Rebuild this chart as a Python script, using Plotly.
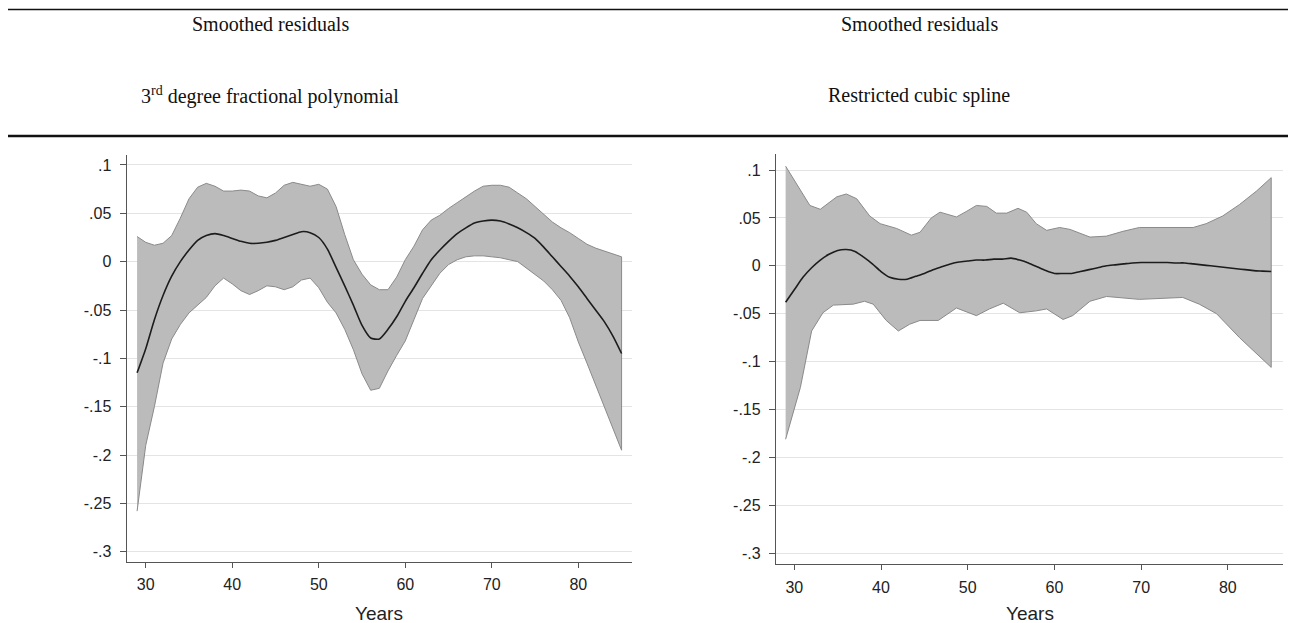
import plotly.graph_objects as go

# ---------------- data ----------------
# Left panel: 3rd degree fractional polynomial
fp_age = [29, 30, 31, 32, 33, 34, 35, 36, 37, 38, 39, 40, 41, 42, 43, 44, 45, 46, 47, 48, 49, 50,
          51, 52, 53, 54, 55, 56, 57, 58, 59, 60, 61, 62, 63, 64, 65, 66, 67, 68, 69, 70, 71, 72,
          73, 74, 75, 76, 77, 78, 79, 80, 81, 82, 83, 84, 85]
fp_fit = [-0.115, -0.090, -0.060, -0.035, -0.015, 0.000, 0.012, 0.022, 0.027, 0.029, 0.027, 0.024,
          0.021, 0.019, 0.019, 0.020, 0.022, 0.025, 0.028, 0.031, 0.030, 0.025, 0.013, -0.006,
          -0.025, -0.045, -0.066, -0.079, -0.080, -0.070, -0.057, -0.041, -0.027, -0.012, 0.002,
          0.012, 0.021, 0.029, 0.035, 0.040, 0.042, 0.043, 0.042, 0.039, 0.035, 0.030, 0.024,
          0.015, 0.005, -0.005, -0.015, -0.026, -0.038, -0.050, -0.062, -0.077, -0.095]
fp_upper = [0.026, 0.020, 0.017, 0.019, 0.027, 0.045, 0.065, 0.077, 0.081, 0.078, 0.073, 0.073,
            0.074, 0.073, 0.068, 0.066, 0.071, 0.079, 0.082, 0.080, 0.078, 0.080, 0.075, 0.057,
            0.028, 0.002, -0.013, -0.024, -0.029, -0.029, -0.016, 0.002, 0.016, 0.033, 0.043,
            0.048, 0.055, 0.061, 0.067, 0.073, 0.078, 0.079, 0.079, 0.077, 0.071, 0.065, 0.057,
            0.049, 0.041, 0.035, 0.030, 0.024, 0.018, 0.014, 0.011, 0.008, 0.005]
fp_lower = [-0.258, -0.190, -0.150, -0.105, -0.080, -0.065, -0.053, -0.045, -0.037, -0.025,
            -0.017, -0.023, -0.030, -0.034, -0.030, -0.025, -0.026, -0.029, -0.026, -0.019,
            -0.017, -0.027, -0.042, -0.053, -0.070, -0.091, -0.116, -0.133, -0.131, -0.113,
            -0.097, -0.082, -0.060, -0.038, -0.025, -0.012, -0.003, 0.002, 0.005, 0.006, 0.006,
            0.005, 0.004, 0.002, 0.000, -0.006, -0.013, -0.020, -0.029, -0.040, -0.058, -0.083,
            -0.105, -0.126, -0.150, -0.172, -0.195]

# Right panel: restricted cubic spline
rcs_age = fp_age
rcs_fit = [-0.038, -0.025, -0.012, -0.002, 0.006, 0.012, 0.016, 0.017, 0.015, 0.009, 0.002,
           -0.006, -0.012, -0.014, -0.014, -0.011, -0.008, -0.004, -0.001, 0.002, 0.004, 0.005,
           0.006, 0.006, 0.007, 0.007, 0.008, 0.006, 0.003, -0.001, -0.005, -0.008, -0.008,
           -0.008, -0.006, -0.004, -0.002, 0.000, 0.001, 0.002, 0.003, 0.0035, 0.0035, 0.0035,
           0.0035, 0.003, 0.003, 0.002, 0.001, 0.000, -0.001, -0.002, -0.003, -0.004, -0.005,
           -0.0055, -0.006]
rcs_up_age = [29, 30.3, 31.8, 33.0, 34.9, 36.0, 37.2, 38.7, 39.9, 41.8, 43.5, 44.5, 45.8, 46.8,
              48.7, 49.9, 51.0, 52.2, 53.3, 54.5, 55.8, 56.8, 57.9, 59.1, 60.6, 61.8, 64.1, 66.0,
              67.9, 69.8, 72.9, 76.0, 77.5, 79.4, 81.35, 83.3, 85]
rcs_upper = [0.104, 0.085, 0.063, 0.059, 0.072, 0.075, 0.070, 0.052, 0.044, 0.039, 0.032, 0.035,
             0.050, 0.056, 0.051, 0.057, 0.063, 0.062, 0.055, 0.055, 0.060, 0.056, 0.044, 0.037,
             0.040, 0.038, 0.030, 0.031, 0.036, 0.040, 0.040, 0.040, 0.044, 0.052, 0.064, 0.078,
             0.092]
rcs_lo_age = [29, 30.7, 32.0, 33.3, 34.5, 36.8, 38.1, 39.1, 40.6, 42.0, 43.3, 44.5, 46.6, 48.7,
              51.0, 52.5, 54.1, 56.0, 57.9, 59.1, 61.0, 62.1, 64.1, 66.0, 69.8, 74.8, 76.7, 78.7,
              81.35, 85]
rcs_lower = [-0.181, -0.127, -0.068, -0.049, -0.041, -0.040, -0.037, -0.040, -0.057, -0.068,
             -0.061, -0.057, -0.057, -0.044, -0.052, -0.045, -0.039, -0.049, -0.047, -0.045,
             -0.056, -0.052, -0.037, -0.032, -0.035, -0.033, -0.040, -0.050, -0.075, -0.106]

x_ticks = [30, 40, 50, 60, 70, 80]
y_ticks = [0.1, 0.05, 0, -0.05, -0.1, -0.15, -0.2, -0.25, -0.3]
y_ticktext = [".1", ".05", "0", "-.05", "-.1", "-.15", "-.2", "-.25", "-.3"]

panel_titles = ["Smoothed residuals", "Smoothed residuals"]
panel_subtitles = ["3<sup>rd</sup> degree fractional polynomial", "Restricted cubic spline"]
x_title = "Years"

# ---------------- figure ----------------
# The page body has an 8px margin, so the figure is laid out in a frame shifted by 8px.
OFF = 8
W, H = 1296 - OFF, 623 - OFF
BAND_FILL = "#bbbbbb"
BAND_LINE = "#8a8a8a"
FIT_COLOR = "#1c1c1c"


def px_x(p):
    return (p - OFF) / W


def px_y(p):
    return 1 - (p - OFF) / H


fig = go.Figure()


def add_panel(xa, ya, age, fit, up_age, upper, lo_age, lower):
    fig.add_trace(go.Scatter(
        x=list(up_age) + list(lo_age)[::-1],
        y=list(upper) + list(lower)[::-1],
        mode="lines", fill="toself", fillcolor=BAND_FILL,
        line=dict(color=BAND_LINE, width=1),
        xaxis=xa, yaxis=ya, hoverinfo="skip", showlegend=False))
    fig.add_trace(go.Scatter(
        x=age, y=fit, mode="lines",
        line=dict(color=FIT_COLOR, width=1.6, shape="spline", smoothing=0.6),
        xaxis=xa, yaxis=ya, showlegend=False))


add_panel("x", "y", fp_age, fp_fit, fp_age, fp_upper, fp_age, fp_lower)
add_panel("x2", "y2", rcs_age, rcs_fit, rcs_up_age, rcs_upper, rcs_lo_age, rcs_lower)

sans = "Liberation Sans, Arial, sans-serif"
tickfont = dict(family=sans, size=16, color="#222222")
AXIS_COLOR = "#555555"


def xaxis_cfg(domain, rng, anchor):
    return dict(domain=domain, range=rng, anchor=anchor, tickmode="array", tickvals=x_ticks,
                showline=True, linecolor=AXIS_COLOR, linewidth=1.3, ticks="outside",
                ticklen=5, tickcolor=AXIS_COLOR, tickwidth=1.2, showgrid=False, zeroline=False,
                tickfont=tickfont, ticklabelstandoff=3)


def yaxis_cfg(domain, rng, anchor):
    return dict(domain=domain, range=rng, anchor=anchor, tickmode="array", tickvals=y_ticks,
                ticktext=y_ticktext, showline=True, linecolor=AXIS_COLOR, linewidth=1.3,
                ticks="outside", ticklen=6, tickcolor=AXIS_COLOR, tickwidth=1.2,
                showgrid=True, gridcolor="#e4e4e4", gridwidth=1.3, zeroline=False,
                tickfont=tickfont, ticklabelstandoff=5)


left_dom = [px_x(126.7), px_x(631.7)]
right_dom = [px_x(776), px_x(1283)]
fig.update_layout(
    width=W, height=H, margin=dict(l=0, r=0, t=0, b=0),
    paper_bgcolor="white", plot_bgcolor="white", showlegend=False,
    xaxis=xaxis_cfg(left_dom, [27.8, 86.17], "y"),
    yaxis=yaxis_cfg([px_y(561.7), px_y(155)], [-0.3103, 0.1103], "x"),
    xaxis2=xaxis_cfg(right_dom, [27.89, 86.36], "y2"),
    yaxis2=yaxis_cfg([px_y(564.3), px_y(154)], [-0.3115, 0.1167], "x2"),
)

# x-axis titles
for dom in [left_dom, right_dom]:
    fig.add_annotation(x=(dom[0] + dom[1]) / 2, y=px_y(613), xref="paper", yref="paper",
                       text=x_title, showarrow=False, xanchor="center", yanchor="middle",
                       font=dict(family=sans, size=19, color="#222222"))

# header rules
fig.add_shape(type="line", xref="paper", yref="paper", x0=0, x1=1, y0=px_y(9.5), y1=px_y(9.5),
              line=dict(color="#111111", width=1.5))
fig.add_shape(type="line", xref="paper", yref="paper", x0=0, x1=1, y0=px_y(136), y1=px_y(136),
              line=dict(color="#111111", width=2.6))

serif = dict(family="Liberation Serif, Times New Roman, serif", size=20, color="#111111")
for cx, t, s in zip([270, 919], panel_titles, panel_subtitles):
    fig.add_annotation(x=px_x(cx), y=px_y(24), xref="paper", yref="paper", text=t,
                       showarrow=False, font=serif, xanchor="center", yanchor="middle")
    fig.add_annotation(x=px_x(cx), y=px_y(95), xref="paper", yref="paper", text=s,
                       showarrow=False, font=serif, xanchor="center", yanchor="middle")

fig.write_html("out.html")
